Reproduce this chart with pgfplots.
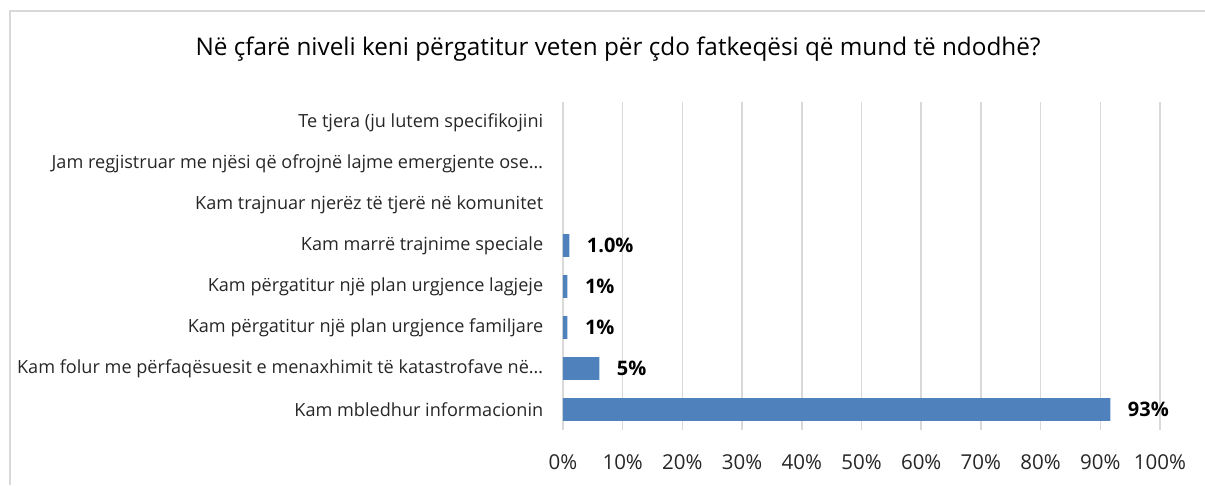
\documentclass[border=0pt]{standalone}
\usepackage{pgfplots}
\pgfplotsset{compat=1.18}
\usepackage{fontspec}
\setmainfont{Open Sans}
\definecolor{barblue}{HTML}{4F81BD}
\definecolor{gridgray}{HTML}{D9D9D9}
\definecolor{txt}{HTML}{262626}
\begin{document}
\begin{tikzpicture}
\useasboundingbox (0,0) rectangle (1205pt,485pt);
\draw[gridgray, line width=1.5pt] (10pt,0pt) -- (10pt,474pt) -- (1205pt,474pt);
\node[font=\fontsize{24.3}{28}\selectfont] at (618pt,436pt) {Në çfarë niveli keni përgatitur veten për çdo fatkeqësi që mund të ndodhë?};
\begin{axis}[
  at={(563pt,55pt)}, anchor=south west,
  scale only axis, width=597pt, height=328pt,
  xmin=0, xmax=100, ymin=-0.5, ymax=7.5,
  xbar, bar width=0.56,
  axis line style={draw=none},
  tick style={draw=none},
  xmajorgrids, grid style={gridgray, line width=1.5pt},
  xtick={0,10,...,100},
  xticklabels={0\%,10\%,20\%,30\%,40\%,50\%,60\%,70\%,80\%,90\%,100\%},
  xticklabel style={font=\fontsize{20.5}{24}\selectfont, text=txt, yshift=-21pt},
  ytick={0,...,7},
  yticklabels={Kam mbledhur informacionin,
    Kam folur me përfaqësuesit e menaxhimit të katastrofave në…,
    Kam përgatitur një plan urgjence familjare,
    Kam përgatitur një plan urgjence lagjeje,
    Kam marrë trajnime speciale,
    Kam trajnuar njerëz të tjerë në komunitet,
    Jam regjistruar me njësi që ofrojnë lajme emergjente ose…,
    Te tjera (ju lutem specifikojini},
  yticklabel style={font=\fontsize{18.1}{22}\selectfont, text=txt, xshift=-12pt},
  point meta=explicit symbolic,
  nodes near coords={\pgfplotspointmeta},
  nodes near coords style={font=\fontsize{20}{24}\selectfont\bfseries, anchor=west, xshift=14pt},
  clip=false,
]
\addplot[fill=barblue, draw=none] coordinates {
  (91.7,0) [93\%]
  (6.1,1) [5\%]
  (0.75,2) [1\%]
  (0.75,3) [1\%]
  (1.07,4) [1.0\%]
};
\end{axis}
\end{tikzpicture}
\end{document}
